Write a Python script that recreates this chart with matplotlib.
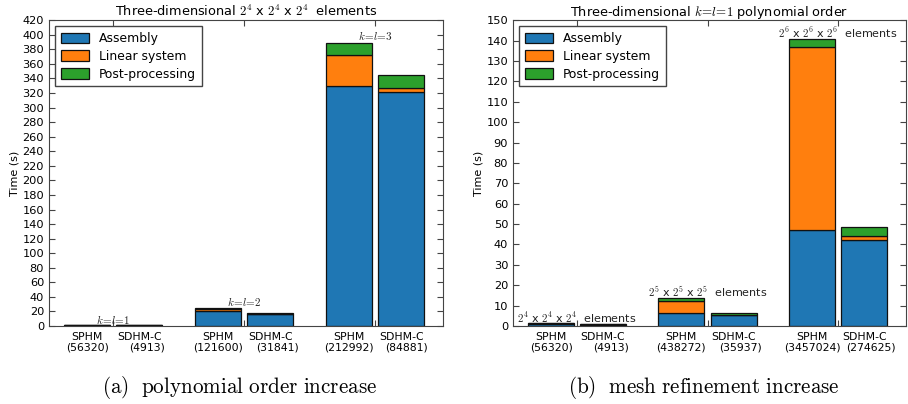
import numpy as np
import matplotlib
matplotlib.use("Agg")
import matplotlib.pyplot as plt

plt.rcParams['font.family'] = ['DejaVu Sans']
plt.rcParams['mathtext.fontset'] = 'cm'

colors = ['#1f77b4', '#ff7f0e', '#2ca02c']
parts = ['Assembly', 'Linear system', 'Post-processing']
methods = ['SPHM', 'SDHM-C']

# (a) polynomial order increase, bars: SPHM/SDHM-C for k=l=1,2,3
dofs_a = ['56320', '4913', '121600', '31841', '212992', '84881']
assembly_a = [1.5, 0.8, 20.5, 16.0, 330.0, 322.0]
linear_a = [0.3, 0.1, 3.2, 0.5, 42.0, 5.0]
post_a = [0.2, 0.1, 1.4, 1.8, 17.0, 18.0]
labels_a = ['$k\\!=\\!l\\!=\\!1$', '$k\\!=\\!l\\!=\\!2$', '$k\\!=\\!l\\!=\\!3$']
label_y_a = [9.5, 33, 399]

# (b) mesh refinement increase, k=l=1 for 2^4, 2^5, 2^6 meshes
dofs_b = ['56320', '4913', '438272', '35937', '3457024', '274625']
assembly_b = [1.2, 0.7, 6.2, 5.2, 47.0, 42.0]
linear_b = [0.3, 0.1, 6.2, 0.2, 90.0, 2.3]
post_b = [0.2, 0.2, 1.5, 1.0, 4.0, 4.1]
labels_b = ['$2^4$ x $2^4$ x $2^4$  elements', '$2^5$ x $2^5$ x $2^5$  elements',
            '$2^6$ x $2^6$ x $2^6$  elements']
label_y_b = [4.0, 17.0, 144.0]

pos = np.array([0, 1, 2.5, 3.5, 5, 6])
groups = np.array([0.5, 3.0, 5.5])


def draw(ax, assembly, linear, post, dofs, labels, label_y, ymax, ystep, title, shifts):
    bottom = np.zeros(len(pos))
    for vals, c, name in zip([assembly, linear, post], colors, parts):
        ax.bar(pos, vals, 0.88, bottom=bottom, color=c, edgecolor='#111111',
               linewidth=0.9, label=name)
        bottom = bottom + np.array(vals)
    ax.set_xlim(-0.72, 6.8)
    ax.set_ylim(0, ymax)
    ax.set_yticks(np.arange(0, ymax + 1, ystep))
    ax.set_xticks(groups)
    ax.set_xticklabels([])
    ax.set_xticks(pos, minor=True)
    ax.set_xticklabels(methods * 3, minor=True, fontsize=7.8)
    ax.tick_params(axis='x', which='minor', length=0, pad=4)
    ax.tick_params(axis='both', which='major', direction='in', top=True, right=True,
                   length=4, labelsize=8.2, color='#444444')
    # number of unknowns under each method name
    for x, d, s in zip(pos, dofs, shifts):
        ax.annotate('(' + d + ')', xy=(x, 0), xycoords=('data', 'axes fraction'),
                    xytext=(s, -15.5), textcoords='offset points',
                    ha='center', va='center', fontsize=7.8)
    for sp in ax.spines.values():
        sp.set_color('#444444')
    for g, t, y in zip(groups, labels, label_y):
        ax.text(g, y, t, ha='center', va='center', fontsize=8, color='#222222')
    ax.set_ylabel('Time (s)', fontsize=8, labelpad=2)
    ax.set_title(title, fontsize=9.3, pad=3)
    ax.legend(loc='upper left', fontsize=8.9, handlelength=2.3, handleheight=0.9,
              borderpad=0.45, labelspacing=0.4, fancybox=False, edgecolor='#444444',
              framealpha=1)


fig = plt.figure(figsize=(9.08, 4.04), dpi=100)
ax1 = fig.add_axes([0.054, 0.193, 0.434, 0.757])
ax2 = fig.add_axes([0.565, 0.193, 0.433, 0.757])

draw(ax1, assembly_a, linear_a, post_a, dofs_a, labels_a, label_y_a, 420, 20,
     'Three-dimensional $2^4$ x $2^4$ x $2^4$  elements', [0.5, 6, 0, 5.5, 0, 3.5])
draw(ax2, assembly_b, linear_b, post_b, dofs_b, labels_b, label_y_b, 150, 10,
     'Three-dimensional $k\\!=\\!l\\!=\\!1$ polynomial order', [0.5, 5.5, 0, 5, 0, 4.5])

fig.text(0.264, 0.04, '$\\mathrm{(a)\\ \\ polynomial\\ order\\ increase}$',
         ha='center', va='center', fontsize=15.2)
fig.text(0.775, 0.04, '$\\mathrm{(b)\\ \\ mesh\\ refinement\\ increase}$',
         ha='center', va='center', fontsize=15.2)

fig.savefig('out.png', dpi=100, facecolor='white')
